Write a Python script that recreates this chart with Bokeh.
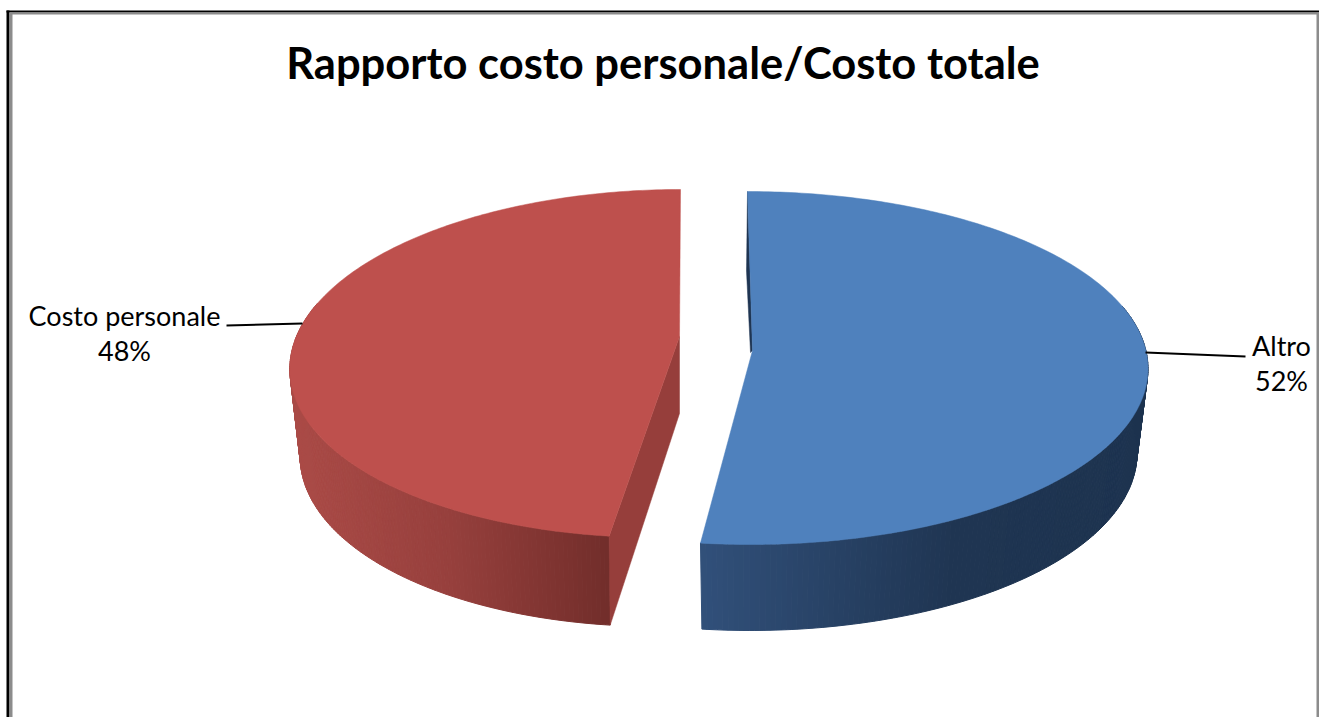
from math import sin, cos, pi
from bokeh.plotting import figure
from bokeh.embed import file_html
from bokeh.resources import INLINE
from bokeh.models import BoxAnnotation
from bokeh.core.properties import value

# ---- data ----
categories = ["Altro", "Costo personale"]
values = [52, 48]
chart_title = "Rapporto costo personale/Costo totale"

# ---- layout: one data unit is one screen pixel ----
W, H = 1319, 717

p = figure(width=W, height=H, output_backend="svg", toolbar_location=None,
           x_range=(0, W), y_range=(H, 0),
           min_border=0, min_border_top=0, min_border_left=0, min_border_right=0, min_border_bottom=0,
           outline_line_color=None, background_fill_color="white", border_fill_color="white")
p.axis.visible = False
p.grid.visible = False

shapes = [
    dict(cx=747, cy=367.5, a=399, b=176.5, shear=3 / 352, apex=(752, 350),
         cx2=747, cy2=452, a2=388, b2=178, shear2=3 / 352, apex_depth=78,
         face="#4F81BD", cut="#1F3552", wall_stops=[(700, "#31507A"), (950, "#1F3552"), (1150, "#1D334F")]),
    dict(cx=680, cy=363, a=378.5, b=174, shear=-24 / 348, apex=(679, 336),
         cx2=680, cy2=450, a2=368, b2=176, shear2=-24 / 348, apex_depth=77,
         face="#BE504D", cut="#963E3B", wall_stops=[(295, "#AB4B47"), (450, "#97403D"), (612, "#712D2A")]),
]


def rim(s, theta, lower=False):
    cx, cy, a, b, k = (s["cx2"], s["cy2"], s["a2"], s["b2"], s["shear2"]) if lower else \
                      (s["cx"], s["cy"], s["a"], s["b"], s["shear"])
    y = cy - b * cos(theta)
    return cx + a * sin(theta) + k * (y - (cy - b)), y


def hex2rgb(c):
    return [int(c[i:i + 2], 16) for i in (1, 3, 5)]


def ramp(stops, x):
    if x <= stops[0][0]:
        return stops[0][1]
    for (x0, c0), (x1, c1) in zip(stops, stops[1:]):
        if x <= x1:
            t = (x - x0) / (x1 - x0)
            return "#%02x%02x%02x" % tuple(round(u + (v - u) * t) for u, v in zip(hex2rgb(c0), hex2rgb(c1)))
    return stops[-1][1]


total = sum(values)
STEPS = 240
start = 0.0
for s, v in zip(shapes, values):
    t0 = start
    t1 = start + v / total * 2 * pi
    start = t1
    s["t0"], s["t1"] = t0, t1
    ts = [t0 + (t1 - t0) * i / STEPS for i in range(STEPS + 1)]

    # outer wall, only the part facing the viewer, in narrow vertical strips
    xs, ys, cols = [], [], []
    for ta, tb in zip(ts, ts[1:]):
        if cos((ta + tb) / 2) > 0.35:
            continue
        pa, pb, qb, qa = rim(s, ta), rim(s, tb), rim(s, tb, True), rim(s, ta, True)
        xs.append([pa[0], pb[0], qb[0], qa[0]])
        ys.append([pa[1], pb[1], qb[1], qa[1]])
        cols.append(ramp(s["wall_stops"], (qa[0] + qb[0]) / 2))
    p.patches(xs, ys, fill_color=cols, line_color=cols, line_width=1)
    s["ts"] = ts

# cut faces and top surfaces
for i, s in enumerate(shapes):
    ax, ay = s["apex"]
    if i == 0:      # the sliver of the far cut face, seen left of the blue top surface
        tx, ty = rim(s, s["t0"])
        p.patch([tx, (tx + ax) / 2 - 3.5, ax - 2, ax], [ty, (ty + ay) / 2, ay + 2, ay],
                fill_color=s["cut"], line_color=s["cut"], line_width=0.5)
    else:           # the near cut face of the red slice
        bx, by = rim(s, s["t0"])
        lx, ly = rim(s, s["t0"], True)
        p.patch([ax, ax, lx, bx], [ay, ay + s["apex_depth"], ly, by],
                fill_color=s["cut"], line_color=s["cut"], line_width=0.5)
    pts = [rim(s, t) for t in s["ts"]]
    p.patch([ax] + [q[0] for q in pts], [ay] + [q[1] for q in pts],
            fill_color=s["face"], line_color=s["face"], line_width=0.5)

# title
p.text([662.5], [61], text=[chart_title], text_align="center", text_baseline="alphabetic",
       text_font=value("Lato"), text_font_style="bold", text_font_size="43.5px", text_color="black")

# leader lines and labels
leaders = [([1145, 1245], [352, 356]), ([302, 226], [323, 325])]
label_x = [1281, 124]
label_y = [345, 315]
LINE_GAP = 35
for (lx, ly), cat, val, x, y in zip(leaders, categories, values, label_x, label_y):
    p.line(lx, ly, line_color="black", line_width=2)
    p.text([x, x], [y, y + LINE_GAP], text=[cat, f"{val}%"], text_align="center", text_baseline="alphabetic",
           text_font=value("Lato"), text_font_size="27px", text_color="black")

# chart frame
black, grey = "#000000", "#8C8C8C"
for l, r, t, b, c in [
    (6, W, 10, 12, black), (6, 9, 10, H, black),
    (9, 12, 12, H, grey), (9, W, 12, 14, grey), (W - 3, W, 12, H, grey),
]:
    p.add_layout(BoxAnnotation(left=l, right=r, top=t, bottom=b, left_units="canvas", right_units="canvas",
                               top_units="canvas", bottom_units="canvas", fill_color=c, fill_alpha=1,
                               line_color=None))

open("out.html", "w").write(file_html(p, INLINE))
